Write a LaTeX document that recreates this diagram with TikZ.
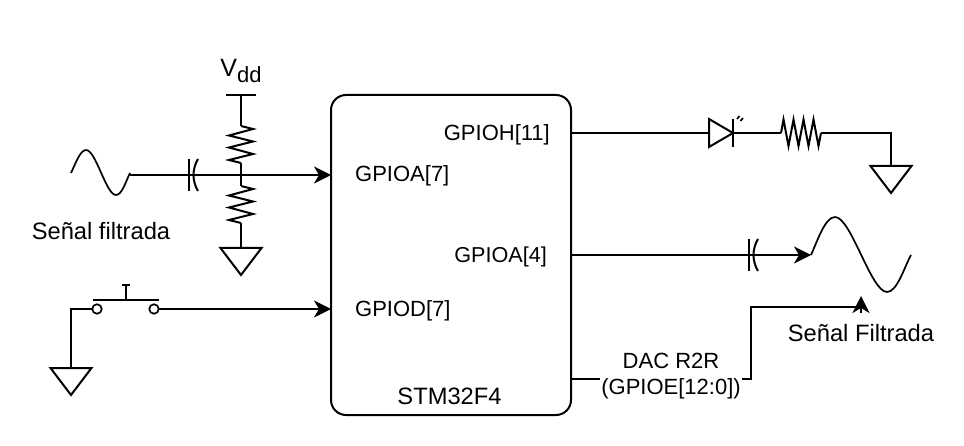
\documentclass[tikz,border=0pt]{standalone}
\usepackage{fontspec}
\setmainfont{Liberation Sans}
\usetikzlibrary{arrows.meta}
\tikzset{
  wire/.style={line width=2pt,line join=miter},
  arrowed/.style={wire,-{Stealth[length=17pt,width=17pt,inset=5pt]}},
  lbl/.style={inner sep=0pt,font=\fontsize{22}{26}\selectfont},
  biglbl/.style={inner sep=0pt,font=\fontsize{23.7}{28}\selectfont},
  sym/.style={line width=2pt,line join=miter},
  ground/.pic={\draw[sym] (-20.5,0) -- (20.5,0) -- (0,27) -- cycle;},
  vres/.pic={\draw[sym,line join=miter] (0,0) -- (12,3) -- (-12,9.5) -- (12,15.5) -- (-12,21.5) -- (12,28) -- (-12,34) -- (0,37);},
  hres/.pic={\draw[sym] (0,0) -- (2.5,-13.5) -- (7.5,13) -- (12.5,-13.5) -- (17.5,13) -- (22.5,-13.5) -- (27.5,13) -- (32.5,-13.5) -- (37.5,13) -- (40,0);},
  capa/.pic={\draw[sym] (0,-16) -- (0,16);\draw[sym] (9,-16) .. controls (3,-6) and (3,6) .. (9,16);},
  sine/.pic={\draw[line width=1.7pt] (0,0) .. controls (4,-8) and (9,-23) .. (15,-23)
     .. controls (25,-23) and (35,22) .. (45,22) .. controls (51,22) and (55,8) .. (59,0);},
  bigsine/.pic={\draw[line width=1.7pt] (0,0) .. controls (6,-13) and (14,-38) .. (24,-38)
     .. controls (40,-38) and (60,37) .. (76,37) .. controls (86,37) and (93,13) .. (100,0);},
}
\begin{document}
\begin{tikzpicture}[x=1pt,y=-1pt]
\useasboundingbox (0,0) rectangle (964,446);
% chip
\node[draw,line width=2pt,rounded corners=15pt,minimum width=240pt,minimum height=320pt,inner sep=0pt,outer sep=0pt] (chip) at (451,255) {};
\node[lbl,anchor=east] (lh) at (550,135) {GPIOH[11]};
\node[lbl,anchor=west] (la7) at (355,176) {GPIOA[7]};
\node[lbl,anchor=east,font=\fontsize{21.6}{26}\selectfont] (la4) at (547,257) {GPIOA[4]};
\node[lbl,anchor=west] (ld) at (355,311) {GPIOD[7]};
\node[biglbl] (ls) at (449.5,396) {STM32F4};
% Vdd network
\node[biglbl,font=\fontsize{25}{30}\selectfont] (vdd) at (241,71) {V\raisebox{-6pt}{\fontsize{22}{26}\selectfont dd}};
\coordinate (vl) at (226,95); \coordinate (vr) at (256,95); \coordinate (vt) at (241,95);
\draw[sym] (vl) -- (vr);
\coordinate (r1a) at (241,126); \coordinate (r1b) at (241,163);
\coordinate (r2a) at (241,186); \coordinate (r2b) at (241,223);
\coordinate (g1) at (241,248);
\pic at (r1a) {vres};
\pic at (r2a) {vres};
\pic at (g1) {ground};
\draw[wire] (vt) -- (r1a);
\draw[wire] (r1b) -- (r2a);
\draw[wire] (r2b) -- (g1);
% input signal
\coordinate (s1) at (71,173);
\pic at (s1) {sine};
\coordinate (s1e) at (130,175);
\coordinate (c1) at (189,175);
\pic at (c1) {capa};
\draw[arrowed] (s1e) -- (s1e -| chip.west);
\node[biglbl] (sf) at (101,231) {Señal filtrada};
% push button
\coordinate (g2) at (71,368);
\pic at (g2) {ground};
\node[circle,draw,line width=1.7pt,minimum size=9.5pt,inner sep=0pt,outer sep=0pt] (bl) at (97,309) {};
\node[circle,draw,line width=1.7pt,minimum size=9.5pt,inner sep=0pt,outer sep=0pt] (br) at (154,309) {};
\coordinate (bbl) at (93,300); \coordinate (bbr) at (159,300);
\coordinate (bs) at (126,300); \coordinate (bt) at (126,285);
\coordinate (btl) at (122,285); \coordinate (btr) at (130,285);
\draw[sym] (bbl) -- (bbr); \draw[sym] (bs) -- (bt); \draw[sym] (btl) -- (btr);
\draw[wire] (g2) |- (bl);
\draw[arrowed] (br) -- (br -| chip.west);
% LED branch
\coordinate (lw) at (571,133);
\coordinate (la) at (709,133); \coordinate (lk) at (733,133);
\coordinate (lt) at (733,119); \coordinate (lb) at (733,147);
\coordinate (r3a) at (781,133); \coordinate (r3b) at (821,133);
\coordinate (g3) at (891,166);
\draw[wire] (lw) -- (la);
\draw[sym] (709,119) -- (lk) -- (709,147) -- cycle;
\draw[sym] (lt) -- (lb);
\draw[line width=1.7pt] (737,119) -- (739.5,116) (740.5,121) -- (743,118);
\draw[wire] (lk) -- (r3a);
\pic at (r3a) {hres};
\draw[wire] (r3b) -| (g3);
\pic at (g3) {ground};
% output signal
\coordinate (o1) at (571,255);
\coordinate (o2) at (811,255);
\coordinate (c2) at (749,255);
\pic at (c2) {capa};
\draw[arrowed] (o1) -- (o2);
\pic at (o2) {bigsine};
% DAC
\coordinate (d1) at (571,379);
\coordinate (d2) at (751,379);
\coordinate (d3) at (751,307);
\coordinate (d4) at (861,307);
\coordinate (d6) at (861,313);
\coordinate (d5) at (861,296);
\draw[wire] (d1) -- (d2) -- (d3) -- (d4);
\draw[arrowed] (d6) -- (d5);
\node[lbl,fill=white,align=center,inner xsep=1pt,inner ysep=0pt] (dac) at (671,376) {DAC R2R\\(GPIOE[12:0])};
\node[biglbl] (sf2) at (861,333) {Señal Filtrada};
\end{tikzpicture}
\end{document}
